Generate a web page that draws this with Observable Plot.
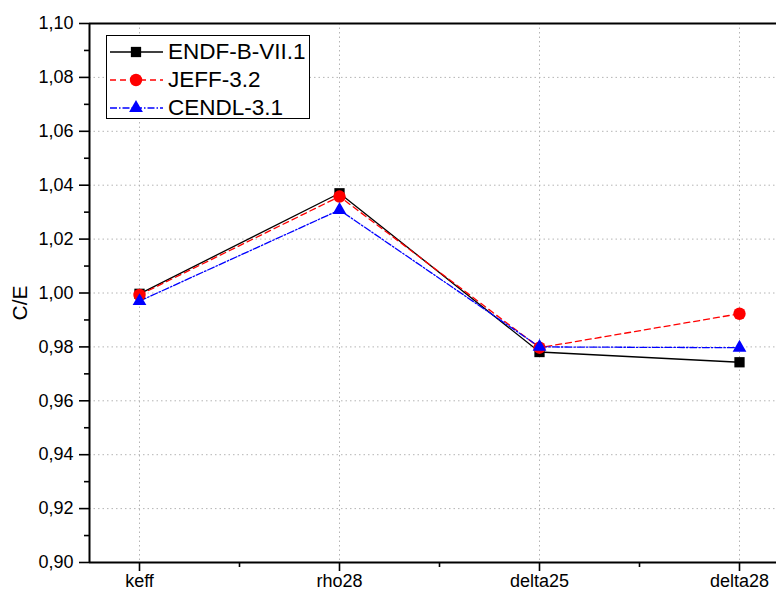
<!DOCTYPE html>
<html>
<head>
<meta charset="utf-8">
<script src="https://cdn.jsdelivr.net/npm/d3@7"></script>
<script src="https://cdn.jsdelivr.net/npm/@observablehq/plot@0.6"></script>
<style>
  html, body { margin: 0; padding: 0; background: #fff; }
  #wrap { position: relative; width: 776px; height: 595px; overflow: hidden; font-family: "Liberation Sans", Arial, sans-serif; }
  #legend { position: absolute; left: 106px; top: 35px; width: 204px; height: 84px; border: 1px solid #000; background: #fff; box-sizing: border-box; }
  .row { position: absolute; left: 2px; height: 28px; display: flex; align-items: center; }
  .row span { font-size: 22.5px; color: #000; margin-left: 5px; line-height: 1; }
</style>
</head>
<body>
<div id="wrap"></div>
<script>
const categories = ["keff", "rho28", "delta25", "delta28"];
const seriesNames = ["ENDF-B-VII.1", "JEFF-3.2", "CENDL-3.1"];
const endf  = [0.9997, 1.0370, 0.9781, 0.9743];
const jeff  = [0.9993, 1.0358, 0.9797, 0.9923];
const cendl = [0.9970, 1.0308, 0.9800, 0.9797];
const yMajor = [0.90, 0.92, 0.94, 0.96, 0.98, 1.00, 1.02, 1.04, 1.06, 1.08, 1.10];
const yMinor = [0.91, 0.93, 0.95, 0.97, 0.99, 1.01, 1.03, 1.05, 1.07, 1.09];
const xMajor = [1, 2, 3, 4];
const xMinor = [1.5, 2.5, 3.5];

const styles = [
  {color: "#000000", dash: null, symbol: "square", r: 5.8},
  {color: "#ff0000", dash: "6,4", symbol: "circle", r: 6.2},
  {color: "#0000ff", dash: "7,2,1.5,2", symbol: "triangle", r: 5.1}
];
const allSeries = [endf, jeff, cendl];
const rows = [];
allSeries.forEach((vals, si) => vals.forEach((v, i) => rows.push({series: seriesNames[si], s: si, x: i + 1, cat: categories[i], y: v})));

const fmt = d => d.toFixed(2).replace(".", ",");
const gridColor = "#b4b4b4";

const marks = [
  Plot.gridY(yMajor.filter(v => v > 0.90 && v < 1.10), {stroke: gridColor, strokeOpacity: 1, strokeDasharray: "1.5,3"}),
  Plot.gridX(xMajor, {stroke: gridColor, strokeOpacity: 1, strokeDasharray: "1.5,3"}),
  Plot.axisY({ticks: yMajor, tickSize: 10, tickPadding: 6, tickFormat: fmt, fontSize: 18, label: null, strokeWidth: 1.6}),
  Plot.axisY({ticks: yMinor, tickSize: 5, tickFormat: null, text: null, label: null, strokeWidth: 1.6}),
  Plot.axisX({ticks: xMajor, tickSize: 9, tickPadding: 3, tickFormat: d => categories[d - 1], fontSize: 18, label: null, strokeWidth: 1.6}),
  Plot.axisX({ticks: xMinor, tickSize: 5, text: null, tickFormat: null, label: null, strokeWidth: 1.6}),
  Plot.ruleX([0.75], {strokeWidth: 2}),
  Plot.ruleY([0.90], {strokeWidth: 2}),
  Plot.ruleY([1.10], {strokeWidth: 2}),
  Plot.text(["C/E"], {frameAnchor: "left", textAnchor: "middle", dx: -69, dy: 10, rotate: -90, fontSize: 21, fill: "#000"})
];
styles.forEach((st, si) => {
  const d = rows.filter(r => r.s === si);
  marks.push(Plot.line(d, {x: "x", y: "y", stroke: st.color, strokeWidth: 1.3, strokeDasharray: st.dash}));
});
styles.forEach((st, si) => {
  const d = rows.filter(r => r.s === si);
  marks.push(Plot.dot(d, {x: "x", y: "y", symbol: st.symbol, r: st.r, fill: st.color, stroke: "none"}));
});

const chart = Plot.plot({
  width: 776,
  height: 595,
  marginLeft: 89,
  marginRight: 0,
  marginTop: 23,
  marginBottom: 33,
  style: {fontFamily: "'Liberation Sans', Arial, sans-serif", color: "#000", background: "#fff", overflow: "hidden"},
  x: {type: "linear", domain: [0.75, 4.185], axis: null},
  y: {domain: [0.90, 1.10], axis: null},
  marks
});
const wrap = document.getElementById("wrap");
wrap.appendChild(chart);

// legend
const legend = document.createElement("div");
legend.id = "legend";
const rowTops = [2, 30, 58];
styles.forEach((st, si) => {
  const row = document.createElement("div");
  row.className = "row";
  row.style.top = rowTops[si] + "px";
  const ns = "http://www.w3.org/2000/svg";
  const svg = document.createElementNS(ns, "svg");
  svg.setAttribute("width", 54);
  svg.setAttribute("height", 28);
  const line = document.createElementNS(ns, "line");
  line.setAttribute("x1", 1); line.setAttribute("x2", 54);
  line.setAttribute("y1", 14); line.setAttribute("y2", 14);
  line.setAttribute("stroke", st.color);
  line.setAttribute("stroke-width", 1.3);
  if (st.dash) line.setAttribute("stroke-dasharray", st.dash);
  svg.appendChild(line);
  const sym = {square: d3.symbolSquare, circle: d3.symbolCircle, triangle: d3.symbolTriangle}[st.symbol];
  const p = document.createElementNS(ns, "path");
  p.setAttribute("d", d3.symbol(sym, Math.PI * st.r * st.r)());
  p.setAttribute("transform", "translate(27,14)");
  p.setAttribute("fill", st.color);
  svg.appendChild(p);
  row.appendChild(svg);
  const t = document.createElement("span");
  t.textContent = seriesNames[si];
  row.appendChild(t);
  legend.appendChild(row);
});
wrap.appendChild(legend);
</script>
</body>
</html>
